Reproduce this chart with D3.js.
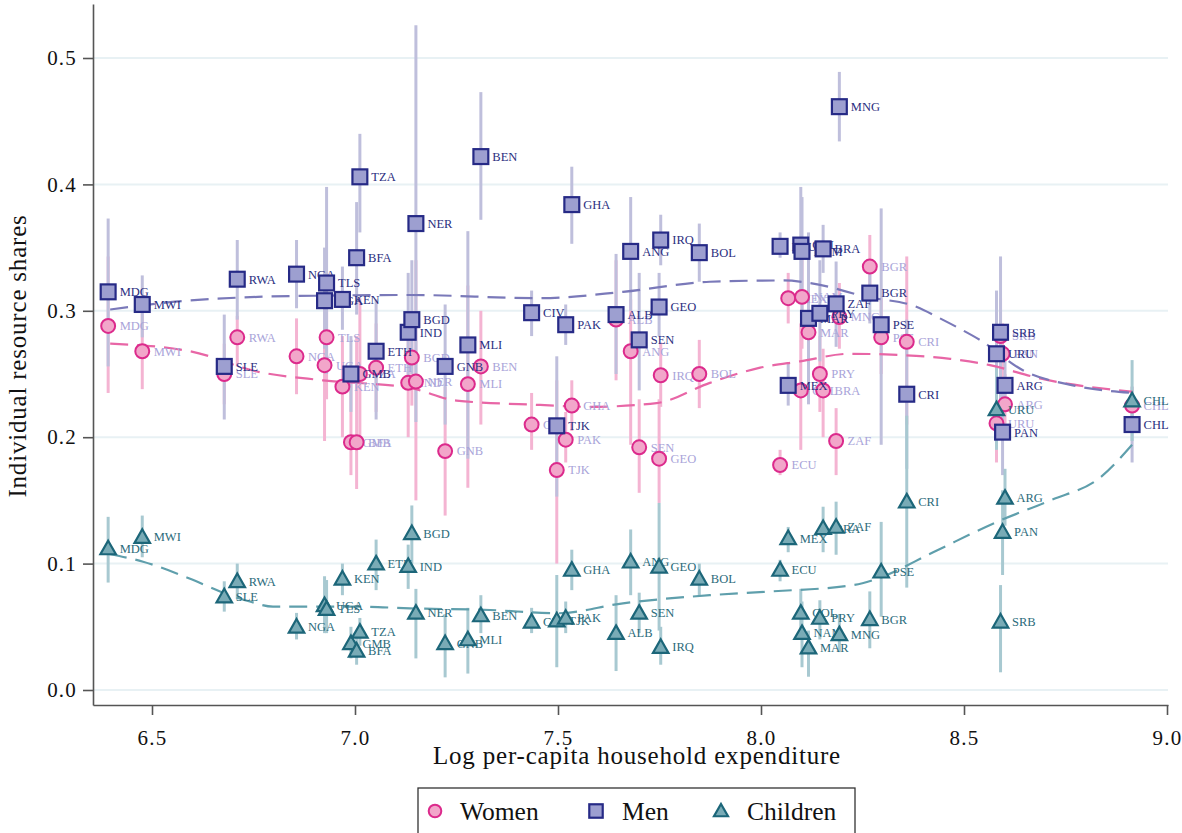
<!DOCTYPE html>
<html><head><meta charset="utf-8">
<script src="https://cdn.jsdelivr.net/npm/d3@7"></script>
<style>body{margin:0;background:#fff;} svg{display:block;}</style>
</head><body><svg id="chart" width="1182" height="833"></svg>
<script>
// ---------------- DATA ----------------
const countries = ["MDG","MWI","SLE","RWA","NGA","UGA","TLS","KEN","GMB","BFA","TZA","ETH","IND","BGD","NER","GNB","MLI","BEN","CIV","TJK","PAK","GHA","ALB","ANG","SEN","GEO","IRQ","BOL","ECU","MEX","COL","NAM","MAR","PRY","BRA","ZAF","MNG","BGR","PSE","CRI","URU","SRB","PAN","ARG","CHL"];
const logExpenditure = [6.392,6.476,6.678,6.710,6.856,6.925,6.930,6.969,6.990,7.004,7.012,7.052,7.131,7.140,7.150,7.222,7.278,7.310,7.435,7.497,7.519,7.534,7.643,7.679,7.700,7.749,7.753,7.848,8.047,8.067,8.098,8.101,8.117,8.145,8.153,8.185,8.193,8.268,8.296,8.359,8.580,8.590,8.595,8.601,8.914];

const womenShare = [0.288,0.268,0.250,0.279,0.264,0.257,0.279,0.240,0.196,0.196,0.250,0.255,0.243,0.263,0.244,0.189,0.242,0.256,0.210,0.174,0.198,0.225,0.293,0.268,0.192,0.183,0.249,0.250,0.178,0.310,0.237,0.311,0.283,0.250,0.237,0.197,0.295,0.335,0.279,0.2755,0.211,0.280,0.266,0.226,0.225];
const womenLow   = [0.235,0.238,0.226,0.256,0.234,0.197,0.230,0.200,0.170,0.159,0.190,0.220,0.200,0.225,0.150,0.138,0.160,0.210,0.190,0.100,0.180,0.205,0.245,0.194,0.156,0.148,0.224,0.223,0.170,0.290,0.190,0.270,0.240,0.220,0.200,0.170,0.270,0.310,0.250,0.210,0.180,0.250,0.240,0.200,0.210];
const womenHigh  = [0.343,0.298,0.274,0.296,0.294,0.310,0.320,0.280,0.250,0.280,0.310,0.290,0.290,0.300,0.340,0.240,0.320,0.300,0.235,0.245,0.220,0.245,0.340,0.309,0.230,0.230,0.275,0.277,0.190,0.330,0.290,0.350,0.320,0.280,0.270,0.223,0.322,0.360,0.310,0.343,0.240,0.310,0.290,0.250,0.240];

const menShare = [0.315,0.305,0.256,0.325,0.329,0.308,0.322,0.309,0.250,0.342,0.406,0.268,0.283,0.293,0.369,0.256,0.273,0.422,0.2985,0.209,0.289,0.384,0.297,0.347,0.277,0.303,0.356,0.346,0.351,0.241,0.352,0.347,0.294,0.298,0.349,0.3055,0.4615,0.314,0.289,0.234,0.266,0.283,0.204,0.241,0.210];
const menLow   = [0.256,0.279,0.214,0.293,0.302,0.270,0.250,0.285,0.220,0.297,0.362,0.214,0.240,0.250,0.212,0.210,0.183,0.372,0.280,0.153,0.273,0.353,0.250,0.300,0.237,0.280,0.336,0.323,0.342,0.225,0.306,0.300,0.226,0.260,0.330,0.2715,0.434,0.290,0.194,0.175,0.216,0.223,0.170,0.220,0.180];
const menHigh  = [0.373,0.328,0.297,0.356,0.356,0.350,0.398,0.335,0.280,0.386,0.440,0.309,0.330,0.340,0.526,0.305,0.363,0.473,0.316,0.264,0.305,0.414,0.345,0.390,0.330,0.330,0.376,0.369,0.362,0.258,0.398,0.390,0.362,0.340,0.368,0.339,0.489,0.340,0.381,0.293,0.316,0.343,0.240,0.262,0.240];

const childShare = [0.112,0.121,0.074,0.086,0.050,0.067,0.064,0.088,0.037,0.031,0.046,0.100,0.098,0.124,0.061,0.037,0.040,0.059,0.054,0.055,0.057,0.095,0.045,0.1015,0.061,0.0975,0.034,0.088,0.095,0.120,0.061,0.045,0.0335,0.057,0.128,0.129,0.044,0.056,0.0936,0.149,0.222,0.054,0.125,0.152,0.229];
const childLow   = [0.085,0.105,0.062,0.072,0.040,0.045,0.045,0.075,0.025,0.020,0.035,0.079,0.080,0.100,0.025,0.010,0.013,0.045,0.045,0.018,0.045,0.079,0.015,0.075,0.045,0.047,0.020,0.075,0.086,0.109,0.040,0.018,0.0105,0.040,0.109,0.107,0.030,0.033,0.058,0.081,0.190,0.014,0.091,0.130,0.197];
const childHigh  = [0.137,0.138,0.086,0.100,0.061,0.090,0.087,0.100,0.050,0.045,0.057,0.119,0.115,0.146,0.080,0.060,0.065,0.075,0.065,0.091,0.070,0.111,0.075,0.127,0.077,0.148,0.050,0.100,0.103,0.129,0.080,0.070,0.047,0.071,0.145,0.149,0.060,0.078,0.133,0.217,0.255,0.083,0.158,0.175,0.261];

// smoothed (lowess) fits
const menFitX   = [6.397,6.55,6.76,6.92,7.135,7.456,7.66,7.874,8.054,8.121,8.261,8.384,8.441,8.483,8.539,8.645,8.768,8.914];
const menFitY   = [0.301,0.307,0.311,0.312,0.3125,0.310,0.315,0.323,0.324,0.322,0.311,0.303,0.294,0.287,0.277,0.253,0.241,0.235];
const womenFitX = [6.397,6.594,6.758,6.921,7.135,7.25,7.456,7.579,7.743,7.874,7.998,8.096,8.219,8.342,8.466,8.564,8.687,8.914];
const womenFitY = [0.274,0.268,0.252,0.245,0.239,0.229,0.2255,0.224,0.227,0.243,0.255,0.260,0.266,0.265,0.262,0.257,0.2465,0.236];
const childFitX = [6.394,6.478,6.594,6.675,6.741,6.798,7.005,7.135,7.333,7.498,7.66,7.874,8.015,8.227,8.286,8.424,8.581,8.712,8.835,8.914];
const childFitY = [0.1076,0.1015,0.088,0.077,0.070,0.066,0.066,0.0646,0.0633,0.0607,0.0686,0.075,0.0778,0.083,0.088,0.109,0.133,0.150,0.168,0.194];

const yTicks = [0,0.1,0.2,0.3,0.4,0.5];
const xTicks = [6.5,7.0,7.5,8.0,8.5,9.0];
const seriesNames = ["Women","Men","Children"];

// ---------------- DRAW ----------------
const svg = d3.select("#chart");
const FONT = "'Liberation Serif','Times New Roman',serif";
const x = d3.scaleLinear().domain([6.35468, 9.00246]).range([93, 1168]);
const y = d3.scaleLinear().domain([-0.011867, 0.54272]).range([705, 4]);

// gridlines
svg.append("g").selectAll("line").data(yTicks).join("line")
  .attr("x1", 93).attr("x2", 1168)
  .attr("y1", d => y(d)).attr("y2", d => y(d))
  .attr("stroke", "#e8f1f4").attr("stroke-width", 2);

const styles = {
  Women:   {fill:"#f2a6ca", stroke:"#dc2a8c", ci:"#f4b4d2", label:"#a9a4d9", fit:"#e866a6"},
  Men:     {fill:"#9d9fd0", stroke:"#262a86", ci:"#bfbfdc", label:"#2a2e80", fit:"#7a79b9"},
  Children:{fill:"#79abb6", stroke:"#1c6679", ci:"#a8c9d1", label:"#2b6b7b", fit:"#5f9fac"}
};
const vals = {Women:[womenShare,womenLow,womenHigh], Men:[menShare,menLow,menHigh], Children:[childShare,childLow,childHigh]};

function rows(name){
  const [v,lo,hi] = vals[name];
  return countries.map((c,i)=>({c, x:logExpenditure[i], v:v[i], lo:lo[i], hi:hi[i]}));
}

// confidence intervals
seriesNames.forEach(name=>{
  svg.append("g").selectAll("line").data(rows(name)).join("line")
    .attr("x1", d=>x(d.x)).attr("x2", d=>x(d.x))
    .attr("y1", d=>y(d.lo)).attr("y2", d=>y(d.hi))
    .attr("stroke", styles[name].ci).attr("stroke-width", 3);
});

// fitted lines
const fits = {Women:[womenFitX,womenFitY], Men:[menFitX,menFitY], Children:[childFitX,childFitY]};
const lineGen = d3.line().x(d=>x(d[0])).y(d=>y(d[1])).curve(d3.curveMonotoneX);
["Children","Women","Men"].forEach(name=>{
  const [fx,fy] = fits[name];
  svg.append("path").datum(fx.map((v,i)=>[v,fy[i]]))
    .attr("d", lineGen).attr("fill","none")
    .attr("stroke", styles[name].fit).attr("stroke-width", 2.2)
    .attr("stroke-dasharray","18,9");
});

// marker shapes
function marker(sel, name, size){
  const s = styles[name];
  if(name==="Women"){
    sel.append("circle").attr("r", size*0.45).attr("fill", s.fill).attr("stroke", s.stroke).attr("stroke-width", 2);
  } else if(name==="Men"){
    const h = size*0.48;
    sel.append("rect").attr("x",-h).attr("y",-h).attr("width",2*h).attr("height",2*h)
      .attr("fill", s.fill).attr("stroke", s.stroke).attr("stroke-width", 2.2);
  } else {
    const w = size*0.5;
    sel.append("path").attr("d", `M0,${-w}L${w},${w*0.75}L${-w},${w*0.75}Z`)
      .attr("fill", s.fill).attr("stroke", s.stroke).attr("stroke-width", 2.2).attr("stroke-linejoin","miter");
  }
}

seriesNames.forEach(name=>{
  const g = svg.append("g");
  const pts = g.selectAll("g").data(rows(name)).join("g")
    .attr("transform", d=>`translate(${x(d.x)},${y(d.v)})`);
  pts.each(function(){ marker(d3.select(this), name, 15.5); });
  pts.append("text").text(d=>d.c)
    .attr("x", 11.5).attr("y", 0).attr("dy","0.35em")
    .attr("font-family", FONT).attr("font-size", 12.5)
    .attr("fill", styles[name].label);
});

// axes
const yAxis = svg.append("g").attr("transform","translate(93,0)")
  .call(d3.axisLeft(y).tickValues(yTicks).tickFormat(d3.format(".1f")).tickSize(10).tickSizeOuter(0).tickPadding(6));
const xAxis = svg.append("g").attr("transform","translate(0,705)")
  .call(d3.axisBottom(x).tickValues(xTicks).tickFormat(d3.format(".1f")).tickSize(10).tickSizeOuter(0).tickPadding(15));
[yAxis,xAxis].forEach(a=>{
  a.select(".domain").attr("stroke","#555").attr("stroke-width",1.6);
  a.selectAll(".tick line").attr("stroke","#555").attr("stroke-width",1.6);
  a.selectAll(".tick text").attr("font-family",FONT).attr("font-size",21).attr("fill","#111").attr("letter-spacing",1.2);
});

// axis titles
svg.append("text").text("Log per-capita household expenditure")
  .attr("x", 637).attr("y", 764).attr("text-anchor","middle")
  .attr("font-family",FONT).attr("font-size",25).attr("letter-spacing",0.8).attr("fill","#111");
svg.append("text").text("Individual resource shares")
  .attr("transform","translate(26,356) rotate(-90)").attr("text-anchor","middle")
  .attr("font-family",FONT).attr("font-size",25).attr("letter-spacing",0.8).attr("fill","#111");

// legend
const lg = svg.append("g");
lg.append("rect").attr("x",418).attr("y",788).attr("width",437).attr("height",60)
  .attr("fill","#fff").attr("stroke","#333").attr("stroke-width",1.3);
const legendPos = [[435,460],[596,622],[721,747]];
seriesNames.forEach((name,i)=>{
  const m = lg.append("g").attr("transform",`translate(${legendPos[i][0]},811)`);
  marker(m, name, 14);
  lg.append("text").text(name).attr("x",legendPos[i][1]).attr("y",819.5)
    .attr("font-family",FONT).attr("font-size",25.5).attr("fill","#111");
});
</script></body></html>
